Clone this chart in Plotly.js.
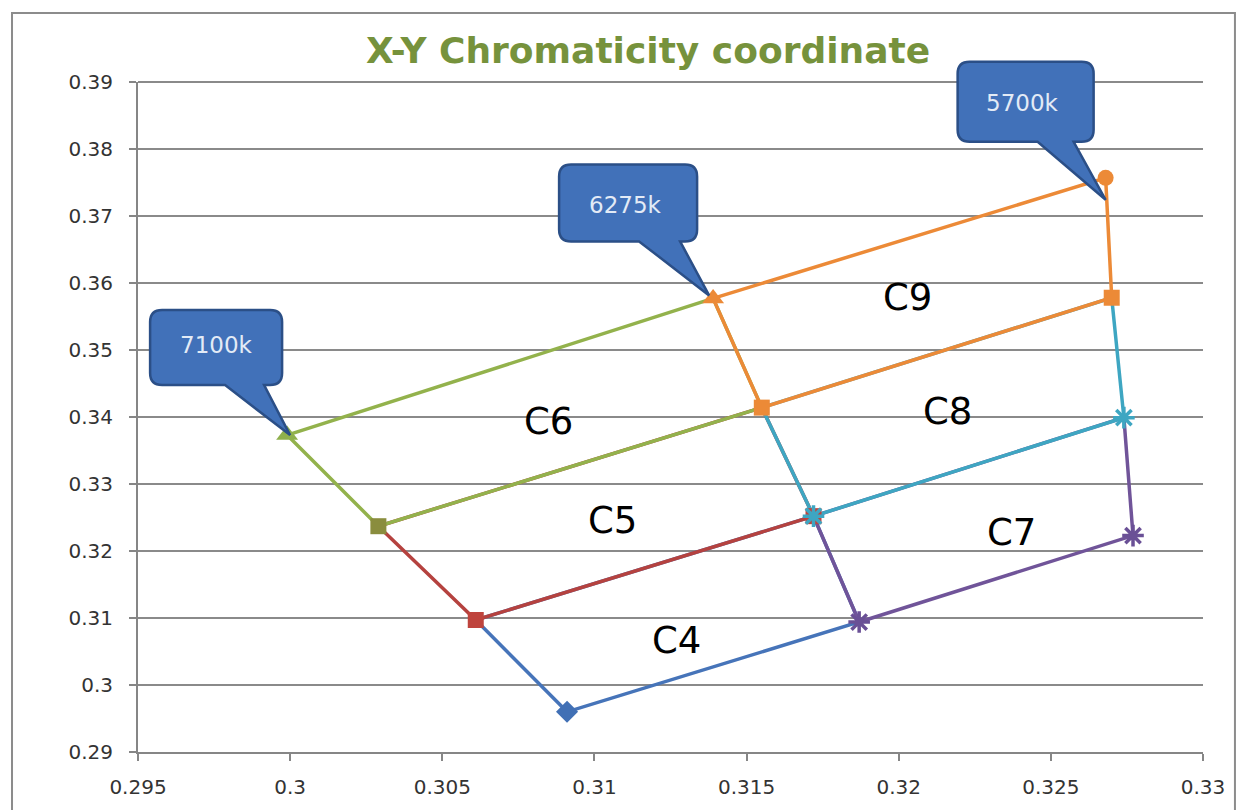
<!DOCTYPE html>
<html>
<head>
<meta charset="utf-8">
<script src="https://cdn.plot.ly/plotly-3.0.1.min.js"></script>
<style>html,body{margin:0;padding:0;background:#fff;}#chart{width:1240px;height:810px;}</style>
</head>
<body>
<div id="chart"></div>
<script>
// ---- data ----
const vertexNames = ['A','B','C','D','E','F','G','H','I','J','K','L'];
const vertexX = [0.2999, 0.3029, 0.3061, 0.3091, 0.3139, 0.3155, 0.3172, 0.3187, 0.3268, 0.3270, 0.3274, 0.3277];
const vertexY = [0.3373, 0.3237, 0.3097, 0.2960, 0.3577, 0.3414, 0.3252, 0.3094, 0.3757, 0.3578, 0.3399, 0.3223];

const regionNames = ['C4','C5','C7','C8','C6','C9'];
const regionCorners = [
  ['C','D','H','G'],
  ['B','C','G','F'],
  ['G','H','L','K'],
  ['F','G','K','J'],
  ['A','B','F','E'],
  ['E','F','J','I']
];
const regionLabelX = [0.3127, 0.3106, 0.3237, 0.3216, 0.3085, 0.3203];
const regionLabelY = [0.3067, 0.3246, 0.3228, 0.3408, 0.3393, 0.3578];

const calloutTexts = ['7100k','6275k','5700k'];
const calloutVertices = ['A','E','I'];

const title = 'X-Y Chromaticity coordinate';
const xRange = [0.295, 0.33];
const yRange = [0.29, 0.39];

// ---- styles ----
const regionColors = {C4:'#4674b9', C5:'#b5423f', C7:'#705499', C8:'#3ea6c2', C6:'#93b24c', C9:'#ec8a37'};
const markerLayers = [
  {v:['D'], symbol:'diamond', color:'#4170b5', size:17},
  {v:['C','G'], symbol:'square', color:'#bf443d', size:16},
  {v:['B'], symbol:'square', color:'#8a8d3e', size:16},
  {v:['A'], symbol:'triangle-up', color:'#8fb04c', size:19},
  {v:['G','K'], symbol:'asterisk-open', color:'#3ea6c2', size:18, lw:3.5},
  {v:['H','L'], symbol:'asterisk-open', color:'#6a5096', size:18, lw:3.5},
  {v:['F','J'], symbol:'square', color:'#ec8a37', size:16},
  {v:['E'], symbol:'triangle-up', color:'#ec8a37', size:19},
  {v:['I'], symbol:'circle', color:'#ec8a37', size:16}
];
// callout geometry in pixels relative to the pointed vertex (y up)
const calloutGeom = [
  {L:-137, R:-5,  T:125, B:50, wL:-62, wR:-23, tx:3,  ty:0,   cx:-71, cy:90},
  {L:-154, R:-16, T:134, B:57, wL:-74, wR:-33, tx:-4, ty:3,   cx:-88, cy:93},
  {L:-148, R:-12, T:116, B:36, wL:-68, wR:-32, tx:0,  ty:-22, cx:-83, cy:75}
];

const idx = n => vertexNames.indexOf(n);
const toPaperX = v => (v - xRange[0]) / (xRange[1] - xRange[0]);
const toPaperY = v => (v - yRange[0]) / (yRange[1] - yRange[0]);

const traces = [];
regionNames.forEach((name, i) => {
  const pts = regionCorners[i].concat([regionCorners[i][0]]);
  traces.push({
    type:'scatter', mode:'lines', name:name, showlegend:false, hoverinfo:'skip',
    x: pts.map(p => vertexX[idx(p)]),
    y: pts.map(p => vertexY[idx(p)]),
    line:{color:regionColors[name], width:3.5}
  });
});
markerLayers.forEach(m => {
  traces.push({
    type:'scatter', mode:'markers', showlegend:false, hoverinfo:'skip',
    x: m.v.map(p => vertexX[idx(p)]),
    y: m.v.map(p => vertexY[idx(p)]),
    marker:{symbol:m.symbol, color:m.color, size:m.size,
            line:{color:m.color, width:m.lw || 0}}
  });
});

function bubblePath(g){
  const r = 12;
  return 'M ' + (g.L + r) + ' ' + g.T +
    ' L ' + (g.R - r) + ' ' + g.T +
    ' Q ' + g.R + ' ' + g.T + ' ' + g.R + ' ' + (g.T - r) +
    ' L ' + g.R + ' ' + (g.B + r) +
    ' Q ' + g.R + ' ' + g.B + ' ' + (g.R - r) + ' ' + g.B +
    ' L ' + g.wR + ' ' + g.B +
    ' L ' + g.tx + ' ' + g.ty +
    ' L ' + g.wL + ' ' + g.B +
    ' L ' + (g.L + r) + ' ' + g.B +
    ' Q ' + g.L + ' ' + g.B + ' ' + g.L + ' ' + (g.B + r) +
    ' L ' + g.L + ' ' + (g.T - r) +
    ' Q ' + g.L + ' ' + g.T + ' ' + (g.L + r) + ' ' + g.T + ' Z';
}

const shapes = [
  {type:'rect', xref:'paper', yref:'paper', layer:'below',
   x0:-0.1183, x1:1.030, y0:-0.12, y1:1.103,
   line:{color:'#8c8c8c', width:2}, fillcolor:'rgba(0,0,0,0)'},
  {type:'line', xref:'paper', yref:'paper', layer:'below',
   x0:0, x1:1, y0:1, y1:1, line:{color:'#8a8a8a', width:2}}
];
const annotations = [];
calloutTexts.forEach((t, i) => {
  const vi = idx(calloutVertices[i]);
  const g = calloutGeom[i];
  shapes.push({
    type:'path', xref:'paper', yref:'paper', xsizemode:'pixel', ysizemode:'pixel',
    xanchor: toPaperX(vertexX[vi]), yanchor: toPaperY(vertexY[vi]),
    path: bubblePath(g),
    fillcolor:'#4171b9', line:{color:'#2b4f87', width:2.5}
  });
  annotations.push({
    xref:'x', yref:'y', x:vertexX[vi], y:vertexY[vi], xshift:g.cx, yshift:g.cy,
    text:t, showarrow:false, xanchor:'center', yanchor:'middle',
    font:{family:'DejaVu Sans', size:23, color:'#e3ebf6'}
  });
});
regionNames.forEach((name, i) => {
  annotations.push({
    xref:'x', yref:'y', x:regionLabelX[i], y:regionLabelY[i],
    text:name, showarrow:false, xanchor:'center', yanchor:'middle',
    font:{family:'DejaVu Sans', size:37, color:'#000000'}
  });
});

const tickFont = {family:'DejaVu Sans', size:20, color:'#333333'};
const layout = {
  width:1240, height:810,
  margin:{l:138, r:37, t:82, b:58},
  paper_bgcolor:'#ffffff', plot_bgcolor:'#ffffff',
  showlegend:false,
  title:{text:title, x:0.5226, xanchor:'center', y:0.938, yanchor:'middle', xref:'container', yref:'container',
         font:{family:'DejaVu Sans', size:36, color:'#76923c', weight:'bold'}},
  xaxis:{range:xRange, tick0:0.295, dtick:0.005, showgrid:false, zeroline:false,
         showline:true, linecolor:'#868686', linewidth:2, ticks:'outside', ticklen:7,
         tickcolor:'#868686', tickwidth:2, tickfont:tickFont, ticklabelstandoff:9},
  yaxis:{range:yRange, tick0:0.29, dtick:0.01, showgrid:true, gridcolor:'#8a8a8a', gridwidth:2,
         zeroline:false, showline:true, linecolor:'#868686', linewidth:2, ticks:'outside', ticklen:7,
         tickcolor:'#868686', tickwidth:2, tickfont:tickFont, ticklabelstandoff:12},
  shapes:shapes,
  annotations:annotations
};
Plotly.newPlot('chart', traces, layout, {displayModeBar:false, staticPlot:true});
</script>
</body>
</html>
